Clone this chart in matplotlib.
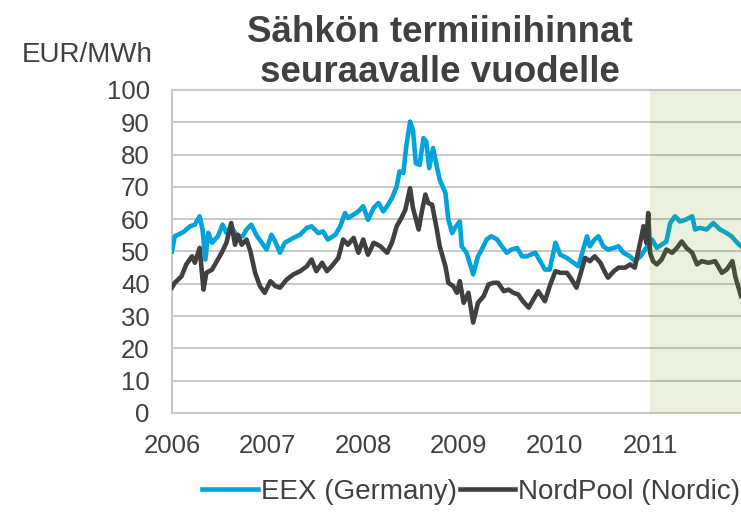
import matplotlib
matplotlib.use("Agg")
import matplotlib.pyplot as plt

plt.rcParams["font.family"] = ["Liberation Sans", "DejaVu Sans"]

TEXT = "#404040"
BLUE = "#00a3da"
DARK = "#404040"

# decimal years
eex_t = [2006.00, 2006.03, 2006.12, 2006.19, 2006.24, 2006.29, 2006.32, 2006.35,
         2006.38, 2006.42, 2006.48, 2006.53, 2006.57, 2006.62, 2006.68, 2006.74,
         2006.78, 2006.83, 2006.89, 2006.94, 2006.99, 2007.04, 2007.08, 2007.13,
         2007.18, 2007.27, 2007.34, 2007.41, 2007.46, 2007.53, 2007.58, 2007.63,
         2007.71, 2007.76, 2007.81, 2007.84, 2007.90, 2007.95, 2008.00, 2008.05,
         2008.11, 2008.16, 2008.21, 2008.26, 2008.30, 2008.35, 2008.38, 2008.42,
         2008.45, 2008.49, 2008.52, 2008.55, 2008.59, 2008.63, 2008.66, 2008.69,
         2008.73, 2008.77, 2008.80, 2008.86, 2008.89, 2008.93, 2008.96, 2009.01,
         2009.03, 2009.08, 2009.15, 2009.20, 2009.24, 2009.29, 2009.34, 2009.40,
         2009.45, 2009.50, 2009.55, 2009.61, 2009.66, 2009.71, 2009.80, 2009.85,
         2009.90, 2009.95, 2010.01, 2010.06, 2010.13, 2010.20, 2010.25, 2010.30,
         2010.34, 2010.37, 2010.42, 2010.46, 2010.51, 2010.56, 2010.62, 2010.67,
         2010.72, 2010.79, 2010.84, 2010.90, 2010.97, 2011.02, 2011.07, 2011.12,
         2011.17, 2011.21, 2011.26, 2011.31, 2011.37, 2011.44, 2011.47, 2011.52,
         2011.59, 2011.66, 2011.73, 2011.80, 2011.85, 2011.91, 2011.95]
eex_v = [50.0, 54.7, 56.0, 57.8, 58.3, 60.9, 56.8, 47.5,
         55.8, 52.7, 54.7, 58.3, 55.8, 57.8, 54.7, 54.7,
         56.8, 58.3, 54.7, 52.7, 50.6, 55.2, 53.1, 49.6,
         52.7, 54.2, 55.2, 57.3, 57.8, 55.7, 56.2, 53.7,
         55.2, 57.8, 61.9, 60.4, 61.4, 62.4, 64.0, 59.8,
         63.5, 65.0, 62.4, 64.5, 66.5, 70.1, 74.8, 74.3,
         82.5, 90.2, 87.6, 77.3, 76.8, 85.1, 84.0, 75.8,
         82.0, 76.3, 72.2, 68.1, 59.8, 55.7, 57.3, 59.3,
         51.6, 49.6, 42.9, 48.5, 50.6, 53.7, 54.7, 53.7,
         51.6, 49.6, 50.6, 51.1, 48.5, 48.5, 49.6, 47.0,
         44.4, 44.4, 52.7, 49.0, 48.0, 46.5, 45.4, 50.6,
         54.7, 51.6, 53.7, 54.7, 51.6, 50.6, 51.1, 51.6,
         49.6, 48.5, 47.0, 48.5, 51.6, 53.7, 51.1, 52.1,
         53.1, 58.8, 60.9, 59.3, 59.8, 60.9, 56.8, 57.3,
         56.8, 58.8, 56.8, 55.7, 54.7, 52.7, 51.6]

nord_t = [2006.00, 2006.03, 2006.10, 2006.15, 2006.21, 2006.24, 2006.29, 2006.33,
          2006.36, 2006.42, 2006.47, 2006.52, 2006.57, 2006.62, 2006.66, 2006.69,
          2006.73, 2006.78, 2006.82, 2006.87, 2006.92, 2006.97, 2007.03, 2007.08,
          2007.13, 2007.20, 2007.27, 2007.34, 2007.41, 2007.46, 2007.51, 2007.57,
          2007.62, 2007.67, 2007.74, 2007.79, 2007.84, 2007.90, 2007.95, 2008.00,
          2008.05, 2008.11, 2008.18, 2008.25, 2008.30, 2008.35, 2008.40, 2008.44,
          2008.49, 2008.52, 2008.58, 2008.61, 2008.65, 2008.68, 2008.72, 2008.77,
          2008.80, 2008.86, 2008.89, 2008.94, 2008.98, 2009.01, 2009.05, 2009.10,
          2009.15, 2009.20, 2009.26, 2009.31, 2009.36, 2009.41, 2009.47, 2009.52,
          2009.57, 2009.62, 2009.67, 2009.73, 2009.78, 2009.83, 2009.90, 2009.95,
          2010.01, 2010.06, 2010.13, 2010.18, 2010.23, 2010.27, 2010.32, 2010.37,
          2010.42, 2010.48, 2010.53, 2010.56, 2010.62, 2010.67, 2010.74, 2010.79,
          2010.84, 2010.88, 2010.91, 2010.93, 2010.96, 2010.98, 2011.00, 2011.03,
          2011.07, 2011.12, 2011.17, 2011.23, 2011.28, 2011.33, 2011.38, 2011.44,
          2011.49, 2011.54, 2011.61, 2011.68, 2011.75, 2011.80, 2011.86, 2011.89,
          2011.95]
nord_v = [38.8, 40.3, 42.3, 46.0, 48.5, 46.5, 51.1, 38.2,
          43.4, 44.4, 47.0, 49.6, 52.7, 58.8, 52.1, 55.2,
          52.1, 53.7, 50.1, 43.4, 39.3, 37.2, 40.8, 39.3,
          38.8, 41.3, 42.9, 43.9, 45.4, 47.5, 43.9, 46.5,
          43.9, 45.4, 48.0, 53.7, 52.1, 54.2, 49.6, 53.7,
          49.0, 52.7, 51.6, 49.6, 52.7, 57.8, 60.4, 62.9,
          69.6, 63.5, 56.8, 61.9, 67.6, 65.0, 64.5, 56.8,
          51.6, 45.4, 40.3, 39.3, 37.2, 40.8, 34.1, 37.2,
          28.0, 34.1, 36.2, 39.8, 40.3, 40.3, 37.7, 38.2,
          37.2, 36.7, 34.6, 32.6, 35.2, 37.7, 34.6, 39.3,
          43.9, 43.4, 43.4, 41.3, 38.8, 42.9, 48.0, 47.0,
          48.5, 46.5, 43.4, 41.9, 43.9, 45.0, 45.0, 46.0,
          45.0, 50.6, 54.7, 57.8, 52.7, 61.9, 49.6, 47.0,
          46.0, 47.5, 50.6, 49.6, 51.1, 53.1, 51.1, 49.6,
          46.0, 47.0, 46.5, 47.0, 43.4, 44.4, 47.0, 42.3,
          36.2]

years = [2006, 2007, 2008, 2009, 2010, 2011]
forecast_start = 2011.0
x_end = 2011.95

fig = plt.figure(figsize=(7.41, 5.14), dpi=100)
ax = fig.add_axes([0.232, 0.1965, 0.768, 0.6285])

ax.plot(eex_t, eex_v, color=BLUE, lw=3.3, solid_joinstyle="round",
        label="EEX (Germany)", zorder=3)
ax.plot(nord_t, nord_v, color=DARK, lw=3.3, solid_joinstyle="round",
        label="NordPool (Nordic)", zorder=3)
# shaded period sits on top of the lines, lightly
ax.axvspan(forecast_start, x_end + 0.1, color="#77a01f", alpha=0.15, lw=0, zorder=4)

ax.set_xlim(2006.0, x_end)
ax.set_ylim(0, 100)
ax.set_yticks(range(0, 101, 10))
ax.set_xticks(years)
ax.set_xticklabels([str(y) for y in years])
ax.grid(axis="y", color="#bfbfbf", lw=1.2, zorder=1)
ax.tick_params(length=0, labelsize=18.5, colors=TEXT)
ax.tick_params(axis="x", pad=15)
ax.tick_params(axis="y", pad=16)
for side in ["left", "top", "bottom"]:
    ax.spines[side].set_color("#c8c8c8")
    ax.spines[side].set_linewidth(1.5)
ax.spines["right"].set_visible(False)

fig.text(0.118, 0.893, "EUR/MWh", ha="center", va="center", fontsize=20, color=TEXT)
fig.text(0.594, 0.898, "Sähkön termiinihinnat\nseuraavalle vuodelle", ha="center",
         va="center", fontsize=26.5, fontweight="bold", color=TEXT, linespacing=1.2)

fig.legend(loc="center", bbox_to_anchor=(0.636, 0.043), ncol=2, frameon=False,
           fontsize=20, labelcolor=TEXT, handlelength=2.0, handletextpad=0.1,
           columnspacing=0.1)

fig.savefig("out.png", dpi=100)
